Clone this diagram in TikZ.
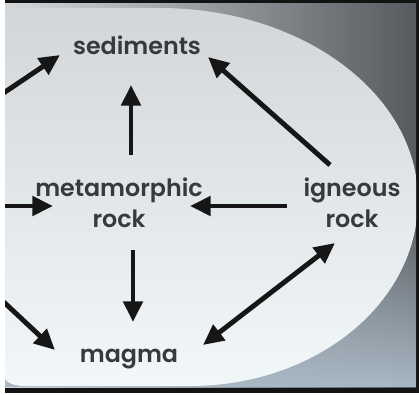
\documentclass[tikz,border=0pt]{standalone}
\usepackage{fontspec}
\setsansfont{Poppins}[BoldFont={Poppins SemiBold}]
\usepackage{tikz}
\usetikzlibrary{arrows.meta,calc,fadings}
\definecolor{rockText}{HTML}{353A3F}
\definecolor{arrowInk}{HTML}{161616}
\definecolor{frameInk}{HTML}{131313}
\definecolor{bgLight}{HTML}{D4D8DB}
\definecolor{bgDark}{HTML}{575B5F}
\definecolor{bgBlue}{HTML}{A9B8C4}
\definecolor{ovalTop}{HTML}{D2D6D9}
\definecolor{ovalMid}{HTML}{E9EDF0}
\definecolor{ovalLow}{HTML}{F2F7FA}

\begin{document}
\begin{tikzpicture}[
        x=0.03cm, y=-0.03cm,
        rockname/.style={
            text=rockText,
            inner sep=0pt,
            align=center,
            font=\sffamily\bfseries\fontsize{20.3}{26.5}\selectfont
        },
        arrow/.style={
            -{Triangle[length=0.62cm, width=0.57cm]},
            line width=4.2pt,
            draw=arrowInk
        },
        biarrow/.style={
            arrow,
            {Triangle[length=0.62cm, width=0.57cm]}-{Triangle[length=0.62cm, width=0.57cm]}
        }
    ]

    \useasboundingbox (0,0) rectangle (419,395);
    \fill[white] (0,0) rectangle (419,395);
    \fill[frameInk] (5,0) rectangle (419,393);

    \begin{scope}
    \clip (5,4) rectangle (416,387);
    \shade[left color=bgLight, right color=bgDark] (5,4) rectangle (416,387);
    \fill[bgBlue, path fading=north] (5,210) rectangle (416,387);
    \shade[top color=ovalTop, middle color=ovalMid, bottom color=ovalLow]
        (-10,8) -- (160,8)
        .. controls (302,8) and (418,94) .. (418,200)
        .. controls (418,303) and (316,386) .. (190,386)
        -- (25,386) .. controls (12,386) and (6,382) .. (3,376) -- cycle;

    \node[rockname, anchor=base] (sediments) at (137,55) {sediments};

    \node[rockname] (metamorphic) at (119,203) {metamorphic\\rock};

    \node[rockname] (igneous) at (352,203) {igneous\\rock};

    \node[rockname, anchor=base] (magma) at (129,362) {magma};

    \coordinate (edgeTop) at (0,95.4);
    \coordinate (edgeMid) at (0,206);
    \coordinate (edgeLow) at (0,298.5);

    \draw[arrow] (edgeTop) -- ($(sediments.base)+(-77,0)$);
    \draw[arrow] ($(metamorphic.center)+(12,-48)$) -- ($(sediments.base)+(-6,30)$);
    \draw[arrow] ($(igneous.center)+(-22,-38)$) -- ($(sediments.base)+(71,2)$);

    \draw[arrow] (edgeMid) -- ($(metamorphic.center)+(-66,3)$);
    \draw[arrow] ($(igneous.center)+(-65,3)$) -- ($(metamorphic.center)+(71,3)$);

    \draw[arrow] ($(metamorphic.center)+(14,47)$) -- ($(magma.base)+(4,-40)$);
    \draw[arrow] (edgeLow) -- ($(magma.base)+(-74,-12)$);
    \draw[biarrow] ($(magma.base)+(74,-17)$) -- ($(igneous.center)+(-17,40)$);
    \end{scope}

\end{tikzpicture}
\end{document}
